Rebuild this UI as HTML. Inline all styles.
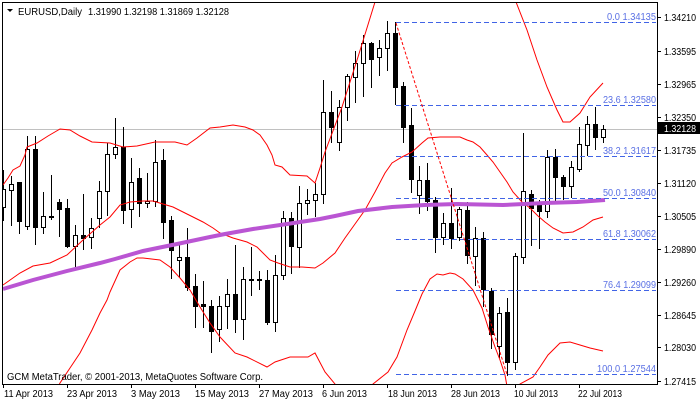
<!DOCTYPE html>
<html><head><meta charset="utf-8"><style>
html,body{margin:0;padding:0;background:#fff;width:700px;height:402px;overflow:hidden}
svg{display:block}
text{font-family:"Liberation Sans",sans-serif;font-size:10px}
</style></head><body>
<svg width="700" height="402" viewBox="0 0 700 402" xmlns="http://www.w3.org/2000/svg">
<defs><clipPath id="ca"><rect x="2" y="2" width="655" height="382"/></clipPath></defs>
<rect x="0" y="0" width="700" height="402" fill="#fff"/>
<!-- current price line -->
<rect x="2" y="129" width="655" height="1" fill="#c0c0c0"/>
<g clip-path="url(#ca)">
<!-- wicks -->
<g fill="#000">
<rect x="3" y="170" width="1" height="51"/><rect x="11" y="176" width="1" height="50"/><rect x="19" y="182" width="1" height="52"/><rect x="27" y="136" width="1" height="94"/><rect x="35" y="136" width="1" height="109"/><rect x="43" y="192" width="1" height="42"/><rect x="51" y="175" width="1" height="45"/><rect x="59" y="199" width="1" height="38"/><rect x="67" y="199" width="1" height="49"/><rect x="75" y="225" width="1" height="44"/><rect x="83" y="194" width="1" height="56"/><rect x="91" y="218" width="1" height="31"/><rect x="99" y="181" width="1" height="47"/><rect x="107" y="143" width="1" height="73"/><rect x="115" y="118" width="1" height="41"/><rect x="123" y="127" width="1" height="97"/><rect x="131" y="158" width="1" height="70"/><rect x="139" y="168" width="1" height="49"/><rect x="147" y="173" width="1" height="35"/><rect x="155" y="140" width="1" height="67"/><rect x="163" y="149" width="1" height="90"/><rect x="171" y="216" width="1" height="63"/><rect x="179" y="244" width="1" height="33"/><rect x="187" y="228" width="1" height="63"/><rect x="195" y="274" width="1" height="54"/><rect x="203" y="281" width="1" height="47"/><rect x="211" y="300" width="1" height="53"/><rect x="219" y="296" width="1" height="46"/><rect x="227" y="279" width="1" height="50"/><rect x="235" y="245" width="1" height="88"/><rect x="243" y="267" width="1" height="73"/><rect x="251" y="247" width="1" height="49"/><rect x="259" y="271" width="1" height="19"/><rect x="267" y="270" width="1" height="55"/><rect x="275" y="255" width="1" height="77"/><rect x="283" y="211" width="1" height="69"/><rect x="291" y="212" width="1" height="62"/><rect x="299" y="186" width="1" height="82"/><rect x="307" y="189" width="1" height="26"/><rect x="315" y="183" width="1" height="34"/><rect x="323" y="80" width="1" height="124"/><rect x="331" y="91" width="1" height="52"/><rect x="339" y="100" width="1" height="51"/><rect x="347" y="74" width="1" height="47"/><rect x="355" y="51" width="1" height="52"/><rect x="363" y="35" width="1" height="62"/><rect x="371" y="42" width="1" height="46"/><rect x="379" y="40" width="1" height="36"/><rect x="387" y="21" width="1" height="50"/><rect x="395" y="22" width="1" height="83"/><rect x="403" y="82" width="1" height="61"/><rect x="411" y="108" width="1" height="85"/><rect x="419" y="166" width="1" height="48"/><rect x="427" y="163" width="1" height="48"/><rect x="435" y="197" width="1" height="56"/><rect x="443" y="213" width="1" height="32"/><rect x="451" y="188" width="1" height="61"/><rect x="459" y="207" width="1" height="34"/><rect x="467" y="202" width="1" height="62"/><rect x="475" y="227" width="1" height="59"/><rect x="483" y="232" width="1" height="75"/><rect x="491" y="288" width="1" height="61"/><rect x="499" y="307" width="1" height="51"/><rect x="507" y="298" width="1" height="78"/><rect x="515" y="253" width="1" height="117"/><rect x="523" y="133" width="1" height="131"/><rect x="531" y="190" width="1" height="56"/><rect x="539" y="200" width="1" height="49"/><rect x="547" y="150" width="1" height="68"/><rect x="555" y="149" width="1" height="52"/><rect x="563" y="175" width="1" height="25"/><rect x="571" y="161" width="1" height="37"/><rect x="579" y="127" width="1" height="45"/><rect x="587" y="116" width="1" height="40"/><rect x="595" y="107" width="1" height="43"/><rect x="603" y="125" width="1" height="18"/>
</g>
<!-- bodies -->
<g fill="#000">
<rect x="1" y="189" width="5" height="19"/><rect x="9" y="184" width="5" height="7"/><rect x="17" y="182" width="5" height="40"/><rect x="25" y="149" width="5" height="78"/><rect x="33" y="149" width="5" height="79"/><rect x="41" y="216" width="5" height="12"/><rect x="49" y="216" width="5" height="2"/><rect x="57" y="202" width="5" height="8"/><rect x="65" y="208" width="5" height="39"/><rect x="73" y="235" width="5" height="12"/><rect x="81" y="235" width="5" height="4"/><rect x="89" y="228" width="5" height="10"/><rect x="97" y="191" width="5" height="28"/><rect x="105" y="154" width="5" height="38"/><rect x="113" y="147" width="5" height="8"/><rect x="121" y="147" width="5" height="64"/><rect x="129" y="182" width="5" height="28"/><rect x="137" y="178" width="5" height="26"/><rect x="145" y="201" width="5" height="3"/><rect x="153" y="162" width="5" height="40"/><rect x="161" y="160" width="5" height="63"/><rect x="169" y="220" width="5" height="31"/><rect x="177" y="257" width="5" height="4"/><rect x="185" y="257" width="5" height="31"/><rect x="193" y="286" width="5" height="21"/><rect x="201" y="304" width="5" height="3"/><rect x="209" y="306" width="5" height="26"/><rect x="217" y="306" width="5" height="24"/><rect x="225" y="294" width="5" height="13"/><rect x="233" y="294" width="5" height="26"/><rect x="241" y="279" width="5" height="41"/><rect x="249" y="279" width="5" height="2"/><rect x="257" y="279" width="5" height="2"/><rect x="265" y="280" width="5" height="43"/><rect x="273" y="275" width="5" height="48"/><rect x="281" y="218" width="5" height="58"/><rect x="289" y="218" width="5" height="29"/><rect x="297" y="203" width="5" height="45"/><rect x="305" y="200" width="5" height="4"/><rect x="313" y="194" width="5" height="7"/><rect x="321" y="112" width="5" height="83"/><rect x="329" y="112" width="5" height="16"/><rect x="337" y="107" width="5" height="36"/><rect x="345" y="76" width="5" height="32"/><rect x="353" y="63" width="5" height="15"/><rect x="361" y="43" width="5" height="21"/><rect x="369" y="43" width="5" height="17"/><rect x="377" y="48" width="5" height="10"/><rect x="385" y="33" width="5" height="16"/><rect x="393" y="33" width="5" height="55"/><rect x="401" y="86" width="5" height="42"/><rect x="409" y="125" width="5" height="55"/><rect x="417" y="180" width="5" height="16"/><rect x="425" y="180" width="5" height="22"/><rect x="433" y="200" width="5" height="38"/><rect x="441" y="223" width="5" height="15"/><rect x="449" y="223" width="5" height="16"/><rect x="457" y="209" width="5" height="29"/><rect x="465" y="210" width="5" height="46"/><rect x="473" y="238" width="5" height="19"/><rect x="481" y="238" width="5" height="52"/><rect x="489" y="291" width="5" height="44"/><rect x="497" y="313" width="5" height="34"/><rect x="505" y="312" width="5" height="51"/><rect x="513" y="256" width="5" height="107"/><rect x="521" y="191" width="5" height="67"/><rect x="529" y="194" width="5" height="15"/><rect x="537" y="202" width="5" height="10"/><rect x="545" y="157" width="5" height="55"/><rect x="553" y="157" width="5" height="21"/><rect x="561" y="177" width="5" height="10"/><rect x="569" y="167" width="5" height="20"/><rect x="577" y="144" width="5" height="26"/><rect x="585" y="124" width="5" height="22"/><rect x="593" y="124" width="5" height="14"/><rect x="601" y="129" width="5" height="9"/>
</g>
<!-- white insides of bull candles -->
<g fill="#fff">
<rect x="2" y="190" width="3" height="17"/><rect x="10" y="185" width="3" height="5"/><rect x="26" y="150" width="3" height="76"/><rect x="42" y="217" width="3" height="10"/><rect x="74" y="236" width="3" height="10"/><rect x="90" y="229" width="3" height="8"/><rect x="98" y="192" width="3" height="26"/><rect x="106" y="155" width="3" height="36"/><rect x="114" y="148" width="3" height="6"/><rect x="130" y="183" width="3" height="26"/><rect x="146" y="202" width="3" height="1"/><rect x="154" y="163" width="3" height="38"/><rect x="178" y="258" width="3" height="2"/><rect x="218" y="307" width="3" height="22"/><rect x="226" y="295" width="3" height="11"/><rect x="242" y="280" width="3" height="39"/><rect x="274" y="276" width="3" height="46"/><rect x="282" y="219" width="3" height="56"/><rect x="298" y="204" width="3" height="43"/><rect x="306" y="201" width="3" height="2"/><rect x="314" y="195" width="3" height="5"/><rect x="322" y="113" width="3" height="81"/><rect x="338" y="108" width="3" height="34"/><rect x="346" y="77" width="3" height="30"/><rect x="354" y="64" width="3" height="13"/><rect x="362" y="44" width="3" height="19"/><rect x="378" y="49" width="3" height="8"/><rect x="386" y="34" width="3" height="14"/><rect x="418" y="181" width="3" height="14"/><rect x="442" y="224" width="3" height="13"/><rect x="458" y="210" width="3" height="27"/><rect x="474" y="239" width="3" height="17"/><rect x="498" y="314" width="3" height="32"/><rect x="514" y="257" width="3" height="105"/><rect x="522" y="192" width="3" height="65"/><rect x="546" y="158" width="3" height="53"/><rect x="570" y="168" width="3" height="18"/><rect x="578" y="145" width="3" height="24"/><rect x="586" y="125" width="3" height="20"/><rect x="602" y="130" width="3" height="7"/>
</g>
<!-- Bollinger bands -->
<g fill="none" stroke="#ff0000" stroke-width="1">
<polyline points="3,185 8,178 13,170 20,166 25,155 27,147 37,143 48,136 60,129 70,130 80,136 92,142 110,143 123,147 137,146 155,142 175,142 187,145 197,138 210,128 220,127 233,125 245,127 253,130 260,135 267,145 272,155 275,165 282,167 290,175 307,176 315,183 320,168 325,152 342,107 358,57 375,2 380,-14"/>
<polyline points="511,-14 516,2 527,30 537,60 547,87 557,110 563,122 570,122 580,113 590,97 603,83"/>
<polyline points="3,285 20,273 33,266 50,263 67,255 83,240 100,225 110,217 120,205 130,202 143,201 153,201 163,204 173,207 183,212 193,217 203,222 213,228 220,233 233,238 247,242 257,247 263,253 270,260 278,263 290,267 302,267 315,268 323,263 335,253 345,238 355,224 365,210 375,192 385,173 392,163 402,157 412,152 422,143 428,138 440,137 460,137 467,140 473,142 480,147 487,155 493,162 500,172 507,182 513,192 522,202 530,208 538,216 545,222 553,228 563,233 573,232 583,227 593,220 603,217"/>
<polyline points="55,392 60,383 70,368 80,353 92,330 100,313 107,300 110,292 115,281 120,270 130,262 137,258 143,258 160,260 170,267 180,278 190,290 200,307 210,323 220,337 235,353 247,357 267,367 275,362 290,357 308,357 315,353 325,372 335,384 340,392"/>
<polyline points="368,392 373,384 388,372 397,357 407,330 415,311 422,294 430,279 437,274 443,275 450,273 455,274 463,279 473,290 482,308 488,327 495,347 500,360 505,375 508,392"/>
<polyline points="517,392 520,384 533,377 540,367 548,355 560,343 570,342 580,345 590,348 603,351"/>
</g>
<!-- MA -->
<polyline fill="none" stroke="#ba55d3" stroke-width="4" points="3,289 33,280 67,271 100,263 115,259 143,251 177,244 210,237 225,234 253,229 287,224 320,219 335,216 358,211 392,207 425,205 457,204 503,205 545,203 577,202 605,200"/>
<!-- Fibo lines -->
<g stroke="#4164e6" stroke-width="1" stroke-dasharray="5,3" fill="none">
<line x1="396" y1="22.5" x2="656" y2="22.5"/>
<line x1="396" y1="105.5" x2="656" y2="105.5"/>
<line x1="396" y1="156.5" x2="656" y2="156.5"/>
<line x1="396" y1="198.5" x2="656" y2="198.5"/>
<line x1="396" y1="239.5" x2="656" y2="239.5"/>
<line x1="396" y1="290.5" x2="656" y2="290.5"/>
<line x1="396" y1="374.5" x2="656" y2="374.5"/>
</g>
<line x1="396" y1="23" x2="507.5" y2="376" stroke="#ff0000" stroke-width="1" stroke-dasharray="3,2"/>
</g>
<!-- Fibo labels -->
<g fill="#5a70e4" text-anchor="end">
<text x="656" y="20" textLength="49" lengthAdjust="spacingAndGlyphs">0.0 1.34135</text>
<text x="656" y="103" textLength="53" lengthAdjust="spacingAndGlyphs">23.6 1.32580</text>
<text x="656" y="154" textLength="53" lengthAdjust="spacingAndGlyphs">38.2 1.31617</text>
<text x="656" y="196" textLength="53" lengthAdjust="spacingAndGlyphs">50.0 1.30840</text>
<text x="656" y="237" textLength="53" lengthAdjust="spacingAndGlyphs">61.8 1.30062</text>
<text x="656" y="288" textLength="53" lengthAdjust="spacingAndGlyphs">76.4 1.29099</text>
<text x="656" y="372" textLength="59" lengthAdjust="spacingAndGlyphs">100.0 1.27544</text>
</g>
<!-- frame -->
<rect x="2.5" y="2.5" width="655" height="382" fill="none" stroke="#000" stroke-width="1"/>
<!-- header -->
<polygon points="7,9 13,9 10,12" fill="#000"/>
<text x="18" y="15" textLength="64" lengthAdjust="spacingAndGlyphs">EURUSD,Daily</text>
<text x="88" y="15" textLength="141" lengthAdjust="spacingAndGlyphs">1.31990 1.32198 1.31869 1.32128</text>
<text x="7" y="380" textLength="256" lengthAdjust="spacingAndGlyphs">GCM MetaTrader, © 2001-2013, MetaQuotes Software Corp.</text>
<!-- price axis -->
<g fill="#000">
<rect x="658" y="17" width="3" height="1"/><rect x="658" y="51" width="3" height="1"/><rect x="658" y="84" width="3" height="1"/><rect x="658" y="117" width="3" height="1"/><rect x="658" y="150" width="3" height="1"/><rect x="658" y="183" width="3" height="1"/><rect x="658" y="216" width="3" height="1"/><rect x="658" y="249" width="3" height="1"/><rect x="658" y="282" width="3" height="1"/><rect x="658" y="315" width="3" height="1"/><rect x="658" y="347" width="3" height="1"/><rect x="658" y="381" width="3" height="1"/>
<text x="664" y="21" textLength="32" lengthAdjust="spacingAndGlyphs">1.34210</text>
<text x="664" y="55" textLength="32" lengthAdjust="spacingAndGlyphs">1.33595</text>
<text x="664" y="88" textLength="32" lengthAdjust="spacingAndGlyphs">1.32965</text>
<text x="664" y="121" textLength="32" lengthAdjust="spacingAndGlyphs">1.32350</text>
<text x="664" y="154" textLength="32" lengthAdjust="spacingAndGlyphs">1.31735</text>
<text x="664" y="187" textLength="32" lengthAdjust="spacingAndGlyphs">1.31120</text>
<text x="664" y="220" textLength="32" lengthAdjust="spacingAndGlyphs">1.30505</text>
<text x="664" y="253" textLength="32" lengthAdjust="spacingAndGlyphs">1.29890</text>
<text x="664" y="286" textLength="32" lengthAdjust="spacingAndGlyphs">1.29260</text>
<text x="664" y="319" textLength="32" lengthAdjust="spacingAndGlyphs">1.28645</text>
<text x="664" y="351" textLength="32" lengthAdjust="spacingAndGlyphs">1.28030</text>
<text x="664" y="385" textLength="32" lengthAdjust="spacingAndGlyphs">1.27415</text>
</g>
<rect x="658" y="122" width="42" height="12" fill="#000"/>
<text x="664" y="132" fill="#fff" textLength="32" lengthAdjust="spacingAndGlyphs">1.32128</text>
<!-- time axis -->
<g fill="#000">
<rect x="3" y="385" width="1" height="3"/><rect x="67" y="385" width="1" height="3"/><rect x="131" y="385" width="1" height="3"/><rect x="195" y="385" width="1" height="3"/><rect x="259" y="385" width="1" height="3"/><rect x="323" y="385" width="1" height="3"/><rect x="387" y="385" width="1" height="3"/><rect x="451" y="385" width="1" height="3"/><rect x="515" y="385" width="1" height="3"/><rect x="579" y="385" width="1" height="3"/>
<text x="4" y="397" textLength="49" lengthAdjust="spacingAndGlyphs">11 Apr 2013</text>
<text x="67" y="397" textLength="50" lengthAdjust="spacingAndGlyphs">23 Apr 2013</text>
<text x="131" y="397" textLength="49" lengthAdjust="spacingAndGlyphs">3 May 2013</text>
<text x="195" y="397" textLength="54" lengthAdjust="spacingAndGlyphs">15 May 2013</text>
<text x="259" y="397" textLength="54" lengthAdjust="spacingAndGlyphs">27 May 2013</text>
<text x="322" y="397" textLength="45" lengthAdjust="spacingAndGlyphs">6 Jun 2013</text>
<text x="388" y="397" textLength="49" lengthAdjust="spacingAndGlyphs">18 Jun 2013</text>
<text x="451" y="397" textLength="49" lengthAdjust="spacingAndGlyphs">28 Jun 2013</text>
<text x="514" y="397" textLength="44" lengthAdjust="spacingAndGlyphs">10 Jul 2013</text>
<text x="578" y="397" textLength="44" lengthAdjust="spacingAndGlyphs">22 Jul 2013</text>
</g>
</svg>
</body></html>
